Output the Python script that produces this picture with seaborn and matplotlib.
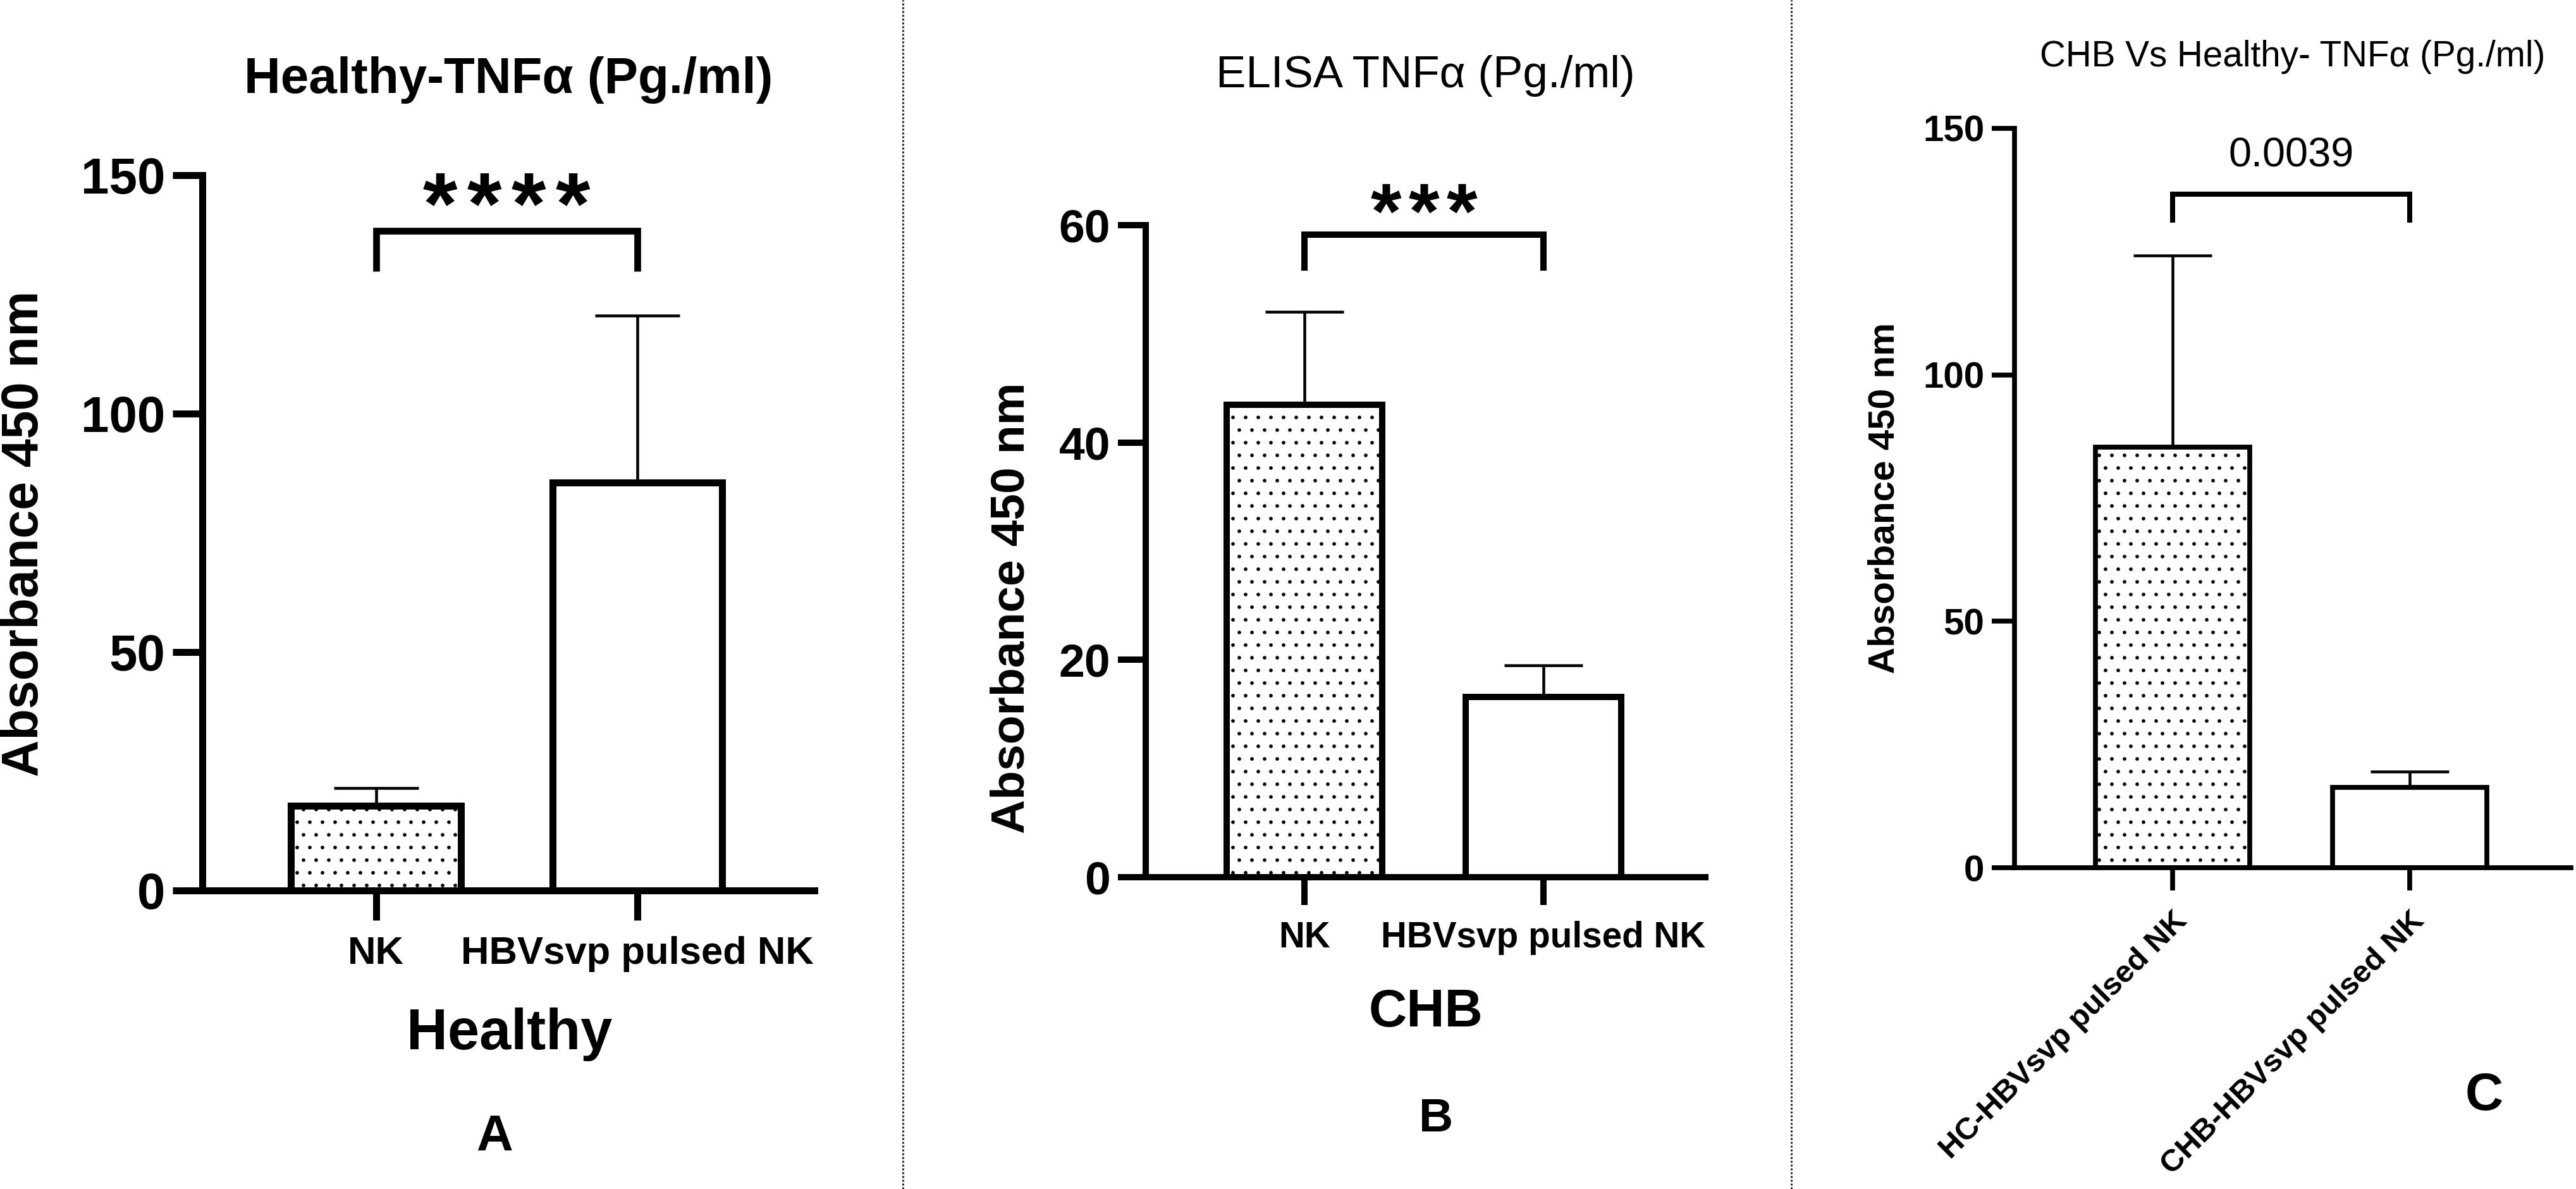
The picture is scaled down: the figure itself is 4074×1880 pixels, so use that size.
import numpy as np
import pandas as pd
import matplotlib
matplotlib.use('Agg')
import matplotlib.pyplot as plt
from matplotlib.lines import Line2D
import seaborn as sns

# ---- data (mean and upper SD) ----
healthy_groups = ['NK', 'HBVsvp pulsed NK']
healthy_mean = [17.8, 85.5]
healthy_sd = [3.7, 35.1]

chb_groups = ['NK', 'HBVsvp pulsed NK']
chb_mean = [43.5, 16.6]
chb_sd = [8.5, 2.9]

cmp_groups = ['HC-HBVsvp pulsed NK', 'CHB-HBVsvp pulsed NK']
cmp_mean = [85.3, 16.3]
cmp_sd = [38.9, 3.2]

DPI = 120
W, H = 4074, 1880


def pt(pixels):
    return pixels * 72 / DPI


sns.set_theme(style='ticks')
plt.rcParams['font.family'] = ['Liberation Sans', 'DejaVu Sans']
plt.rcParams['hatch.linewidth'] = 1.0
for key in ['text.color', 'axes.labelcolor', 'xtick.color', 'ytick.color', 'axes.edgecolor']:
    plt.rcParams[key] = 'black'


def draw_panel(ax, groups, means, sds, ymax, yticks, lw, tick_px, cap_px, tick_fs, xtick_fs):
    df = pd.DataFrame({'group': groups, 'mean': means})
    sns.barplot(data=df, x='group', y='mean', color='white', edgecolor='black',
                linewidth=pt(lw), width=0.65, errorbar=None, saturation=1, ax=ax, zorder=2)
    for p in ax.patches:
        p.set_facecolor('white')
        p.set_edgecolor('black')
    ax.patches[0].set_hatch('.')
    ax.errorbar(np.arange(len(groups)), means, yerr=[np.zeros(len(sds)), sds], fmt='none',
                ecolor='black', elinewidth=pt(4.5), capsize=pt(cap_px), capthick=pt(4.5), zorder=1)
    sns.despine(ax=ax)
    for s in ['left', 'bottom']:
        ax.spines[s].set_linewidth(pt(lw))
        ax.spines[s].set_color('black')
    ax.set_xlim(-0.665, 1.678)
    ax.set_ylim(0, ymax)
    ax.set_yticks(yticks)
    ax.tick_params(axis='both', width=pt(lw), length=pt(tick_px), color='black',
                   labelcolor='black')
    ax.tick_params(axis='y', labelsize=tick_fs, pad=7)
    ax.tick_params(axis='x', labelsize=xtick_fs, pad=15)
    for t in ax.get_yticklabels() + ax.get_xticklabels():
        t.set_fontweight('bold')
    ax.set_xlabel('')
    ax.set_facecolor('white')
    ax.grid(False)


def add_bracket(ax, y_leg, y_top, lw):
    ax.plot([0, 0, 1, 1], [y_leg, y_top, y_top, y_leg], color='black', lw=pt(lw),
            clip_on=False, solid_joinstyle='miter', solid_capstyle='butt')


def add_stars(ax, n, y_top, spacing, dy, fs):
    for i in range(n):
        ax.annotate('*', xy=(0.5, y_top), xycoords='data',
                    xytext=((i - (n - 1) / 2) * spacing, dy), textcoords='offset pixels',
                    ha='center', va='baseline', fontsize=fs, fontweight='bold',
                    color='black', annotation_clip=False)


fig = plt.figure(figsize=(W / DPI, H / DPI), dpi=DPI, facecolor='white')


# axes boxes from pixel positions (left, top, right, bottom)
def add_axes_px(l, t, r, b):
    return fig.add_axes([l / W, 1 - b / H, (r - l) / W, (b - t) / H])


axA = add_axes_px(320, 277, 1288, 1408)
axB = add_axes_px(1812, 356, 2697, 1387)
axC = add_axes_px(3186, 203, 4066, 1372)

# ---- Panel A ----
draw_panel(axA, healthy_groups, healthy_mean, healthy_sd, 150, [0, 50, 100, 150],
           lw=11, tick_px=47, cap_px=67, tick_fs=48, xtick_fs=37)
add_bracket(axA, 129.8, 138.3, 10.7)
add_stars(axA, 4, 138.3, 70, -4, 84)
axA.text(0.5, 1.133, 'Healthy-TNFα (Pg./ml)', transform=axA.transAxes, ha='center',
         va='center', fontsize=48, fontweight='bold', color='black')
axA.set_ylabel('Absorbance 450 nm', fontsize=48.5, fontweight='bold', color='black')
axA.yaxis.set_label_coords(-0.29, 0.499)
axA.yaxis.label.set_va('center')
axA.text(0.502, -0.201, 'Healthy', transform=axA.transAxes, ha='center', va='center',
         fontsize=54, fontweight='bold', color='black')
axA.text(0.478, -0.345, 'A', transform=axA.transAxes, ha='center', va='center',
         fontsize=48, fontweight='bold', color='black')

# ---- Panel B ----
draw_panel(axB, chb_groups, chb_mean, chb_sd, 60, [0, 20, 40, 60],
           lw=10, tick_px=44, cap_px=62, tick_fs=44, xtick_fs=34)
add_bracket(axB, 55.8, 59.1, 10)
add_stars(axB, 3, 59.1, 60, -5, 75)
axB.text(0.5, 1.229, 'ELISA TNFα (Pg./ml)', transform=axB.transAxes, ha='center',
         va='center', fontsize=42.5, color='black')
axB.set_ylabel('Absorbance 450 nm', fontsize=45, fontweight='bold', color='black')
axB.yaxis.set_label_coords(-0.240, 0.413)
axB.yaxis.label.set_va('center')
axB.text(0.5, -0.208, 'CHB', transform=axB.transAxes, ha='center', va='center',
         fontsize=50, fontweight='bold', color='black')
axB.text(0.519, -0.371, 'B', transform=axB.transAxes, ha='center', va='center',
         fontsize=45, fontweight='bold', color='black')

# ---- Panel C ----
draw_panel(axC, cmp_groups, cmp_mean, cmp_sd, 150, [0, 50, 100, 150],
           lw=7.7, tick_px=36, cap_px=62, tick_fs=35, xtick_fs=29.5)
for t in axC.get_xticklabels():
    t.set_rotation(45)
    t.set_ha('right')
    t.set_rotation_mode('anchor')
axC.tick_params(axis='x', pad=15)
add_bracket(axC, 130.9, 136.7, 8)
axC.text(0.5, 142.3, '0.0039', ha='center', va='baseline', fontsize=39, color='black')
axC.text(0.5, 1.097, 'CHB Vs Healthy- TNFα (Pg./ml)', transform=axC.transAxes, ha='center',
         va='center', fontsize=34, color='black')
axC.set_ylabel('Absorbance 450 nm', fontsize=35, fontweight='bold', color='black')
axC.yaxis.set_label_coords(-0.234, 0.5)
axC.yaxis.label.set_va('center')
axC.text(0.844, -0.309, 'C', transform=axC.transAxes, ha='center', va='center',
         fontsize=50, fontweight='bold', color='black')

# dotted panel separators
for xs in [1428, 2833]:
    fig.add_artist(Line2D([xs / W, xs / W], [0, 1], transform=fig.transFigure,
                          color='#222222', lw=1.8, linestyle=(0, (1, 1))))

fig.savefig('out.png', dpi=DPI, facecolor='white')
